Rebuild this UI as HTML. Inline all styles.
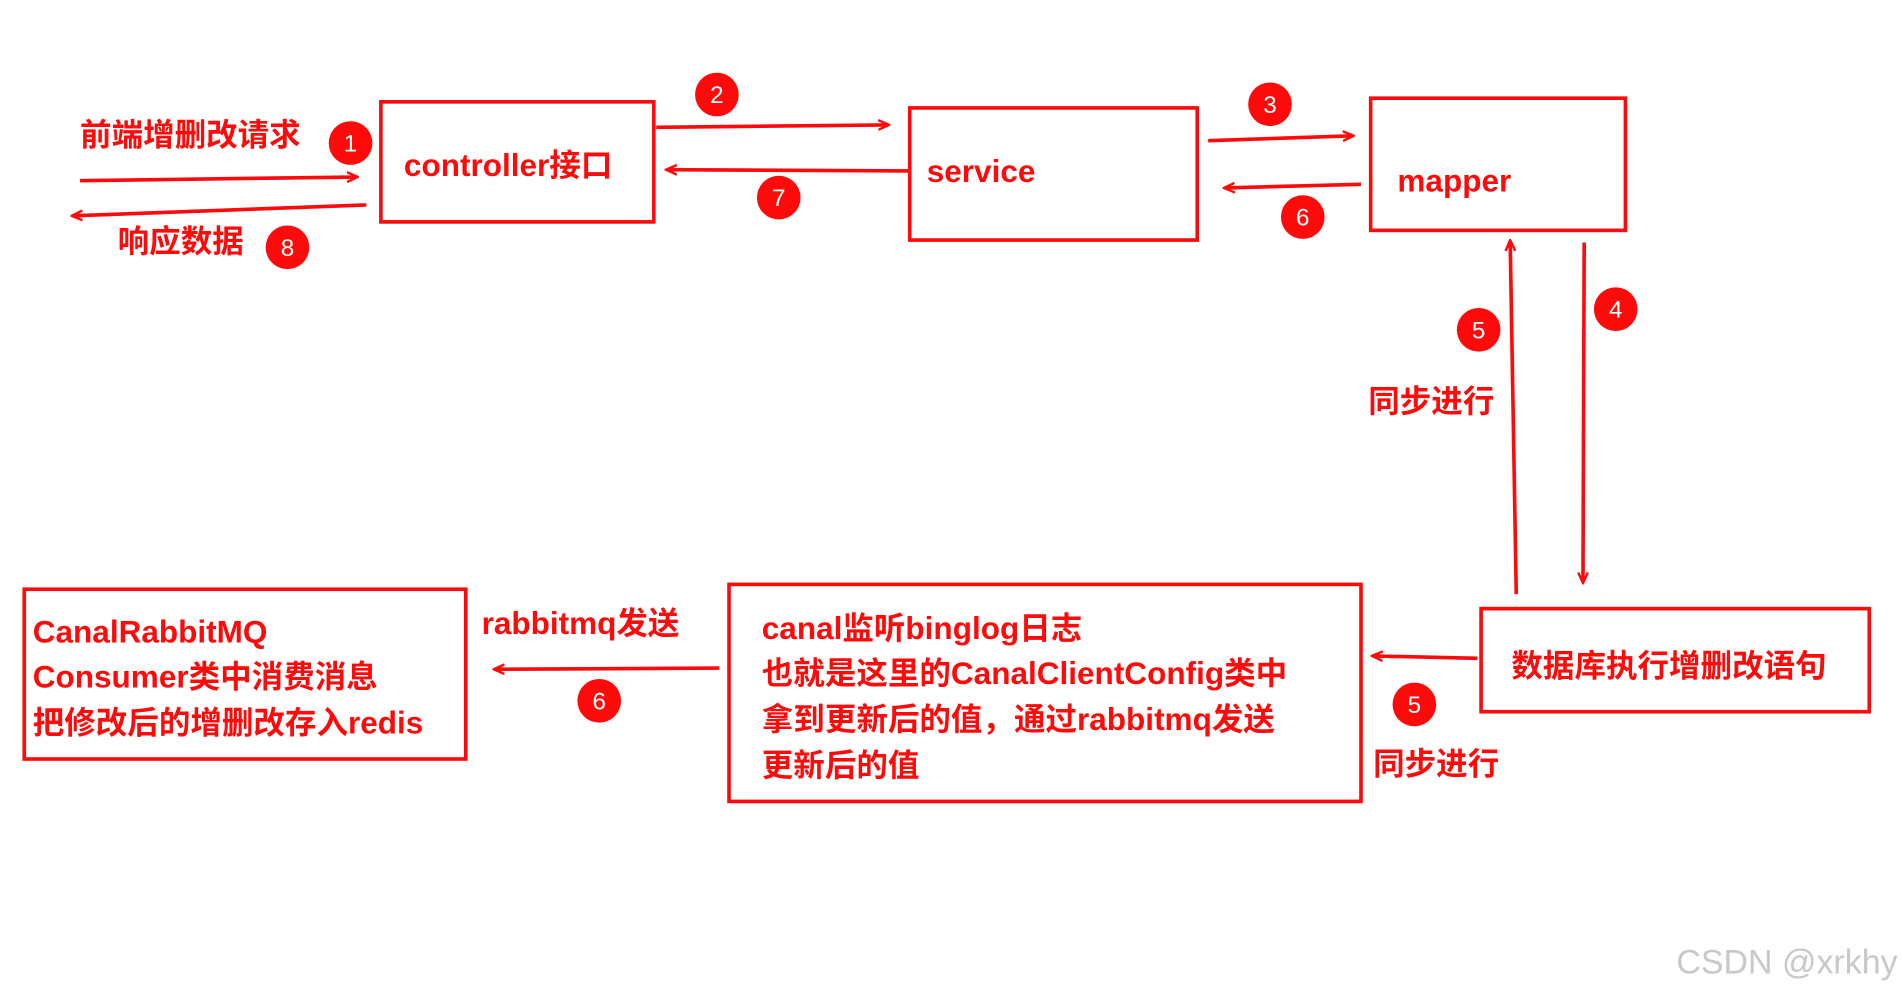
<!DOCTYPE html>
<html><head><meta charset="utf-8"><style>
html,body{margin:0;padding:0;background:#fff;}
svg{display:block;}
text{font-family:"Liberation Sans","Noto Sans CJK SC",sans-serif;font-weight:bold;fill:#ff0a0a;}
</style></head><body>
<svg width="1902" height="993" viewBox="0 0 1568 819" preserveAspectRatio="none" xmlns="http://www.w3.org/2000/svg">
<defs>
<marker id="a" markerWidth="10" markerHeight="10" refX="8" refY="5" orient="auto" markerUnits="userSpaceOnUse">
<path d="M0,1 L9,5 L0,9" fill="none" stroke="#ff0a0a" stroke-width="2"/>
</marker>
</defs>
<g fill="none" stroke="#ff0a0a" stroke-width="3">
<rect x="314" y="84" width="225" height="99"/>
<rect x="750" y="89" width="237" height="109"/>
<rect x="1130" y="81" width="210" height="109"/>
<rect x="1221" y="502" width="320" height="85"/>
<rect x="601" y="482" width="521" height="179"/>
<rect x="20" y="486" width="364" height="140"/>
</g>
<g stroke="#ff0a0a" stroke-width="3" marker-end="url(#a)">
<line x1="66" y1="149" x2="294" y2="146"/>
<line x1="302" y1="169" x2="60" y2="178"/>
<line x1="541" y1="105" x2="732" y2="103"/>
<line x1="750" y1="141" x2="550" y2="140"/>
<line x1="996" y1="116" x2="1115" y2="112"/>
<line x1="1122" y1="152" x2="1010" y2="155"/>
<line x1="1250" y1="490" x2="1245" y2="199"/>
<line x1="1306" y1="200" x2="1305" y2="480"/>
<line x1="1218" y1="543" x2="1132" y2="541"/>
<line x1="593" y1="551" x2="408" y2="552"/>
</g>
<g fill="#ff0a0a">
<circle cx="289" cy="118" r="18"/><circle cx="591" cy="78" r="18"/><circle cx="642" cy="163" r="18"/>
<circle cx="1047" cy="86" r="18"/><circle cx="1074" cy="179" r="18"/><circle cx="237" cy="204" r="18"/>
<circle cx="1219" cy="272" r="18"/><circle cx="1332" cy="255" r="18"/><circle cx="1166" cy="581" r="18"/>
<circle cx="494" cy="578" r="18"/>
</g>
<g style="fill:#fff;font-weight:normal;font-size:20px" text-anchor="middle">
<text x="289" y="125" style="fill:#fff;font-weight:normal">1</text>
<text x="591" y="85" style="fill:#fff;font-weight:normal">2</text>
<text x="642" y="170" style="fill:#fff;font-weight:normal">7</text>
<text x="1047" y="93" style="fill:#fff;font-weight:normal">3</text>
<text x="1074" y="186" style="fill:#fff;font-weight:normal">6</text>
<text x="237" y="211" style="fill:#fff;font-weight:normal">8</text>
<text x="1219" y="279" style="fill:#fff;font-weight:normal">5</text>
<text x="1332" y="262" style="fill:#fff;font-weight:normal">4</text>
<text x="1166" y="588" style="fill:#fff;font-weight:normal">5</text>
<text x="494" y="585" style="fill:#fff;font-weight:normal">6</text>
</g>
<g font-size="26">
<text x="333" y="145">controller接口</text>
<text x="764" y="150">service</text>
<text x="1152" y="158">mapper</text>
<text x="1246" y="558">数据库执行增删改语句</text>
<text x="628" y="527">canal监听binglog日志</text>
<text x="628" y="564">也就是这里的CanalClientConfig类中</text>
<text x="628" y="602">拿到更新后的值，通过rabbitmq发送</text>
<text x="628" y="640">更新后的值</text>
<text x="27" y="530">CanalRabbitMQ</text>
<text x="27" y="567">Consumer类中消费消息</text>
<text x="27" y="605">把修改后的增删改存入redis</text>
<text x="66" y="120">前端增删改请求</text>
<text x="97" y="208">响应数据</text>
<text x="1128" y="340">同步进行</text>
<text x="397" y="523">rabbitmq发送</text>
<text x="1132" y="639">同步进行</text>
</g>
<text x="1382" y="803" font-size="28" style="fill:#c8c8c8;font-weight:normal">CSDN @xrkhy</text>
</svg>
</body></html>
